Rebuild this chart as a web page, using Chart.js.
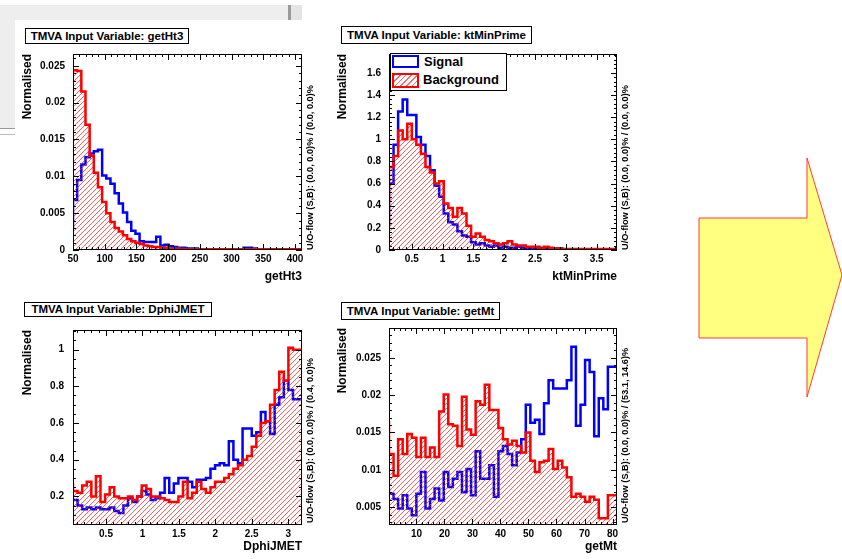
<!DOCTYPE html>
<html>
<head>
<meta charset="utf-8">
<script src="https://cdn.jsdelivr.net/npm/chart.js@4/dist/chart.umd.min.js"></script>
<style>
  html, body { margin: 0; padding: 0; }
  body { width: 842px; height: 559px; position: relative; overflow: hidden; background: #fff;
         font-family: "Liberation Sans", Arial, sans-serif; }
  .pane { position: absolute; }
  .frame-bg { position: absolute; background: #eeeeee; }
  .frame-line { position: absolute; background: #9a9a9a; }
  .title { position: absolute; box-sizing: border-box; border: 1px solid #000; background: #fff;
           font: bold 11.5px "Liberation Sans", Arial, sans-serif; text-align: center; white-space: nowrap; color: #000; }
  .note { position: absolute; font: bold 9.2px "Liberation Sans", Arial, sans-serif; line-height: 10px;
          white-space: nowrap; transform-origin: 0 0; transform: rotate(-90deg); color: #000; }
  .legend { position: absolute; box-sizing: border-box; border: 1px solid #000; background: #fff; }
  .legend .sw { position: absolute; box-sizing: border-box; border: 2px solid; }
  .legend .lab { position: absolute; font: bold 13px "Liberation Sans", Arial, sans-serif; line-height: 14px; color: #000; }
  svg.arrow { position: absolute; left: 0; top: 0; }
</style>
</head>
<body>

<!-- window edges behind the first pad -->
<div class="frame-bg" style="left:0;top:5px;width:288px;height:15px"></div>
<div class="frame-line" style="left:288px;top:5px;width:3px;height:15px"></div>
<div class="frame-bg" style="left:291px;top:5px;width:11px;height:15px;background:#e4e4e4"></div>
<div class="frame-bg" style="left:0;top:20px;width:15px;height:108px"></div>
<div class="frame-line" style="left:0;top:128px;width:15px;height:1px"></div>
<div class="frame-line" style="left:0;top:134px;width:15px;height:1px;background:#bbb"></div>

<canvas id="c1" class="pane" width="320" height="250" style="left:0;top:40px"></canvas>
<canvas id="c2" class="pane" width="320" height="250" style="left:316px;top:40px"></canvas>
<canvas id="c3" class="pane" width="320" height="244" style="left:0;top:315px"></canvas>
<canvas id="c4" class="pane" width="320" height="245" style="left:316px;top:314px"></canvas>

<div class="title" style="left:25px;top:28px;width:164px;height:16px;line-height:14px">TMVA Input Variable: getHt3</div>
<div class="title" style="left:341px;top:26px;width:191px;height:18px;line-height:16px">TMVA Input Variable: ktMinPrime</div>
<div class="title" style="left:24px;top:302px;width:188px;height:15px;line-height:13px">TMVA Input Variable: DphiJMET</div>
<div class="title" style="left:341px;top:302px;width:159px;height:18px;line-height:16px">TMVA Input Variable: getMt</div>

<div class="note" style="left:305px;top:250px">U/O-flow (S,B): (0.0, 0.0)% / (0.0, 0.0)%</div>
<div class="note" style="left:620px;top:250px">U/O-flow (S,B): (0.0, 0.0)% / (0.0, 0.0)%</div>
<div class="note" style="left:305px;top:523px">U/O-flow (S,B): (0.0, 0.0)% / (0.4, 0.0)%</div>
<div class="note" style="left:620px;top:523px">U/O-flow (S,B): (0.0, 0.0)% / (53.1, 14.6)%</div>

<div class="legend" style="left:390px;top:53px;width:117px;height:38px">
  <div class="sw" style="left:1px;top:1px;width:27px;height:13px;border-color:#0000ff;background:#fff"></div>
  <div class="lab" style="left:33px;top:1px">Signal</div>
  <div class="sw" style="left:1px;top:19px;width:27px;height:15px;border-color:#ff0000;
       background:repeating-linear-gradient(135deg, rgba(255,40,40,0.7) 0 1px, #fff 1px 4px)"></div>
  <div class="lab" style="left:32px;top:19px">Background</div>
</div>

<svg class="arrow" width="842" height="559">
  <polygon points="699,218 807,218 807,158 842,275 807,397 807,338 699,338"
           fill="#ffff80" stroke="#ff3b3b" stroke-width="1"/>
</svg>

<script>
// ---- histogram contents (normalised), one value per bin ----
// getHt3: 55 bins from 50
const ht3Start = 50, ht3Width = 6.56;
const ht3Signal = [0.0028,0.0068,0.0095,0.0116,0.0126,0.0131,0.0134,0.0136,0.0101,0.0097,
  0.0090,0.0077,0.0063,0.0051,0.0038,0.0026,0.0022,0.0012,0.0011,0.0011,
  0.0011,0.0018,0.0006,0.0007,0.0005,0.0004,0.0003,0.0003,0.0002,0.0002,
  0.0002,0.0001,0.0001,0.0001,0.0001,0.0001,0.0001,0.0001,0.0001,0.0001,
  0.0001,0.0001,0.0003,0.0003,0.0002,0.0001,0.0001,0.0001,0.0001,0.0001,
  0.0001,0.0001,0.0001,0.0001,0.0001];
const ht3Background = [0.0240,0.0244,0.0243,0.0215,0.0170,0.0128,0.0105,0.0085,0.0065,0.0050,
  0.0038,0.0030,0.0025,0.0020,0.0015,0.0012,0.0010,0.0008,0.0006,0.0005,
  0.0004,0.0004,0.0003,0.0003,0.0002,0.0002,0.0002,0.0001,0.0001,0.0001,
  0.0001,0.0001,0.0001,0.0001,0.0001,0.0001,0.0001,0.0001,0.0001,0.0001,
  0.0001,0.0001,0.0001,0.0001,0.0001,0.0001,0.0001,0.0001,0.0001,0.0001,
  0.0001,0.0001,0.0001,0.0001,0.0001];

// ktMinPrime: 50 bins from 0.13
const ktStart = 0.13, ktWidth = 0.074;
const ktSignal = [0.22,0.60,0.95,1.25,1.36,1.22,1.22,1.02,0.95,0.85,
  0.72,0.58,0.48,0.33,0.25,0.23,0.17,0.13,0.12,0.07,
  0.05,0.06,0.04,0.03,0.04,0.02,0.03,0.02,0.02,0.03,
  0.02,0.02,0.01,0.01,0.01,0.01,0.005,0.01,0.005,0.005,
  0.005,0.005,0.003,0.003,0.003,0.002,0.002,0.002,0.002,0.002];
const ktBackground = [0.20,0.75,0.85,1.08,1.00,1.14,1.00,0.95,0.87,0.75,
  0.70,0.60,0.62,0.42,0.38,0.30,0.38,0.33,0.22,0.12,
  0.15,0.12,0.09,0.08,0.06,0.05,0.06,0.08,0.05,0.04,
  0.04,0.03,0.03,0.03,0.02,0.03,0.02,0.015,0.015,0.01,
  0.01,0.01,0.01,0.01,0.01,0.01,0.01,0.01,0.01,0.01];

// DphiJMET: 50 bins from 0.047
const dphiStart = 0.047, dphiWidth = 0.0629;
const dphiSignal = [0.19,0.18,0.15,0.13,0.14,0.13,0.14,0.13,0.13,0.14,
  0.12,0.11,0.15,0.19,0.17,0.20,0.23,0.21,0.18,0.19,
  0.22,0.30,0.22,0.27,0.30,0.30,0.28,0.25,0.29,0.29,
  0.30,0.35,0.37,0.38,0.37,0.50,0.40,0.38,0.57,0.57,
  0.53,0.55,0.66,0.61,0.54,0.70,0.74,0.83,0.78,0.73];
const dphiBackground = [0.27,0.23,0.22,0.26,0.28,0.20,0.31,0.17,0.21,0.25,
  0.20,0.19,0.19,0.20,0.18,0.20,0.26,0.24,0.20,0.20,
  0.19,0.18,0.17,0.17,0.20,0.28,0.19,0.22,0.28,0.24,
  0.22,0.25,0.28,0.28,0.30,0.32,0.35,0.37,0.40,0.42,
  0.47,0.53,0.60,0.61,0.70,0.78,0.88,0.83,1.01,1.00];

// getMt: 50 bins from 0.2
const mtStart = 0.2, mtWidth = 1.628;
const mtSignal = [0.0075,0.0068,0.0061,0.0048,0.0066,0.0048,0.0039,0.0068,0.0097,0.0048,
  0.0061,0.0075,0.0059,0.0097,0.0077,0.0088,0.0097,0.0070,0.0101,0.0066,
  0.0125,0.0088,0.0088,0.0106,0.0064,0.0125,0.0132,0.0121,0.0106,0.0123,
  0.0141,0.0187,0.0163,0.0167,0.0148,0.0189,0.0220,0.0209,0.0209,0.0209,
  0.0220,0.0265,0.0159,0.0187,0.0247,0.0231,0.0145,0.0196,0.0181,0.0238];
const mtBackground = [0.0165,0.0121,0.0092,0.0141,0.0121,0.0148,0.0143,0.0117,0.0143,0.0117,
  0.0130,0.0117,0.0178,0.0201,0.0161,0.0159,0.0132,0.0198,0.0154,0.0147,
  0.0192,0.0187,0.0214,0.0180,0.0180,0.0156,0.0141,0.0134,0.0139,0.0132,
  0.0123,0.0150,0.0112,0.0097,0.0110,0.0112,0.0128,0.0101,0.0112,0.0103,
  0.0090,0.0064,0.0068,0.0064,0.0057,0.0064,0.0060,0.0035,0.0035,0.0066];

// ---- drawing ----
const SIG = '#0000ff', BKG = '#ff0000';
const FONT = '"Liberation Sans", Arial, sans-serif';
Chart.defaults.font.family = FONT;

function hatchPattern() {
  const s = 5;
  const c = document.createElement('canvas');
  c.width = c.height = s;
  const g = c.getContext('2d');
  g.strokeStyle = 'rgba(255,40,40,0.75)';
  g.lineWidth = 1;
  g.beginPath();
  g.moveTo(0, s); g.lineTo(s, 0);
  g.moveTo(-s, s); g.lineTo(s, -s);
  g.moveTo(0, 2 * s); g.lineTo(2 * s, 0);
  g.stroke();
  return g.createPattern(c, 'repeat');
}

// bin contents -> step points at the bin edges
function binSteps(start, width, values) {
  const pts = values.map((v, i) => ({ x: start + i * width, y: v }));
  pts.push({ x: start + values.length * width, y: values[values.length - 1] });
  return pts;
}

const fmt = v => String(parseFloat(Number(v).toFixed(4)));

// frame with inward major/minor ticks on all four sides
const padFrame = {
  id: 'padFrame',
  afterDraw(chart, args, opts) {
    const { ctx, chartArea: a, scales: { x, y } } = chart;
    ctx.save();
    ctx.strokeStyle = '#000';
    ctx.lineWidth = 1;
    ctx.strokeRect(Math.round(a.left) + 0.5, Math.round(a.top) + 0.5,
                   Math.round(a.width) - 1, Math.round(a.height) - 1);
    const marks = (scale, step, sub) => {
      const out = [];
      const minor = step / sub;
      const k0 = Math.ceil(scale.min / minor - 1e-6), k1 = Math.floor(scale.max / minor + 1e-6);
      for (let k = k0; k <= k1; k++) {
        out.push({ p: scale.getPixelForValue(k * minor), major: k % sub === 0 });
      }
      return out;
    };
    ctx.beginPath();
    for (const t of marks(x, opts.xStep, opts.xSub)) {
      const len = t.major ? 6 : 3;
      const px = Math.round(t.p) + 0.5;
      ctx.moveTo(px, a.bottom); ctx.lineTo(px, a.bottom - len);
      ctx.moveTo(px, a.top); ctx.lineTo(px, a.top + len);
    }
    for (const t of marks(y, opts.yStep, opts.ySub)) {
      const len = t.major ? 6 : 3;
      const py = Math.round(t.p) + 0.5;
      ctx.moveTo(a.left, py); ctx.lineTo(a.left + len, py);
      ctx.moveTo(a.right, py); ctx.lineTo(a.right - len, py);
    }
    ctx.stroke();
    ctx.restore();
  }
};

function drawPad(id, p) {
  const tickFont = { family: FONT, size: 10, weight: 'bold' };
  const titleFont = { family: FONT, size: 12, weight: 'bold', lineHeight: 1.2 };
  new Chart(document.getElementById(id), {
    type: 'line',
    data: {
      datasets: [
        { label: 'Background', data: binSteps(p.start, p.width, p.bkg), stepped: 'after',
          borderColor: BKG, borderWidth: 2.5, backgroundColor: hatchPattern(), fill: 'start',
          pointRadius: 0 },
        { label: 'Signal', data: binSteps(p.start, p.width, p.sig), stepped: 'after',
          borderColor: SIG, borderWidth: 2.5, fill: false, pointRadius: 0 }
      ]
    },
    options: {
      responsive: false,
      animation: false,
      events: [],
      layout: { padding: { top: 12, right: p.padRight, left: 0, bottom: 0 }, autoPadding: false },
      plugins: {
        legend: { display: false },
        tooltip: { enabled: false },
        padFrame: { xStep: p.xStep, xSub: p.xSub, yStep: p.yStep, ySub: p.ySub }
      },
      scales: {
        x: {
          type: 'linear', min: p.xMin, max: p.xMax,
          afterFit: s => { s.height = p.xHeight; },
          grid: { display: false, drawTicks: false }, border: { display: false },
          ticks: { stepSize: p.xStep, includeBounds: false, autoSkip: false, maxRotation: 0,
                   padding: 3, font: tickFont, color: '#000', callback: fmt },
          title: { display: true, text: p.xTitle, align: 'end', color: '#000', font: titleFont,
                   padding: { top: 0, bottom: p.xTitlePad } }
        },
        y: {
          type: 'linear', min: p.yMin, max: p.yMax,
          afterFit: s => { s.width = 73; },
          grid: { display: false, drawTicks: false }, border: { display: false },
          ticks: { stepSize: p.yStep, includeBounds: false, autoSkip: false,
                   padding: p.yPad, font: tickFont, color: '#000', callback: fmt },
          title: { display: true, text: 'Normalised', align: 'end', color: '#000', font: titleFont,
                   padding: { top: p.yTitlePad, bottom: 0 } }
        }
      }
    },
    plugins: [padFrame]
  });
}

drawPad('c1', { start: ht3Start, width: ht3Width, sig: ht3Signal, bkg: ht3Background,
  xMin: 50, xMax: 411, xStep: 50, xSub: 5, yMin: 0, yMax: 0.0266, yStep: 0.005, ySub: 5,
  xTitle: 'getHt3', padRight: 18, xHeight: 40, xTitlePad: 6, yTitlePad: 20, yPad: 8 });

drawPad('c2', { start: ktStart, width: ktWidth, sig: ktSignal, bkg: ktBackground,
  xMin: 0.13, xMax: 3.83, xStep: 0.5, xSub: 5, yMin: 0, yMax: 1.77, yStep: 0.2, ySub: 5,
  xTitle: 'ktMinPrime', padRight: 19, xHeight: 40, xTitlePad: 6, yTitlePad: 19, yPad: 8 });

drawPad('c3', { start: dphiStart, width: dphiWidth, sig: dphiSignal, bkg: dphiBackground,
  xMin: 0.047, xMax: 3.19, xStep: 0.5, xSub: 5, yMin: 0.044, yMax: 1.107, yStep: 0.2, ySub: 4,
  xTitle: 'DphiJMET', padRight: 18, xHeight: 34, xTitlePad: 5, yTitlePad: 20, yPad: 9 });

drawPad('c4', { start: mtStart, width: mtWidth, sig: mtSignal, bkg: mtBackground,
  xMin: 0.2, xMax: 81.6, xStep: 10, xSub: 5, yMin: 0.0026, yMax: 0.029, yStep: 0.005, ySub: 5,
  xTitle: 'getMt', padRight: 19, xHeight: 34, xTitlePad: 5, yTitlePad: 19, yPad: 8 });
</script>
</body>
</html>
